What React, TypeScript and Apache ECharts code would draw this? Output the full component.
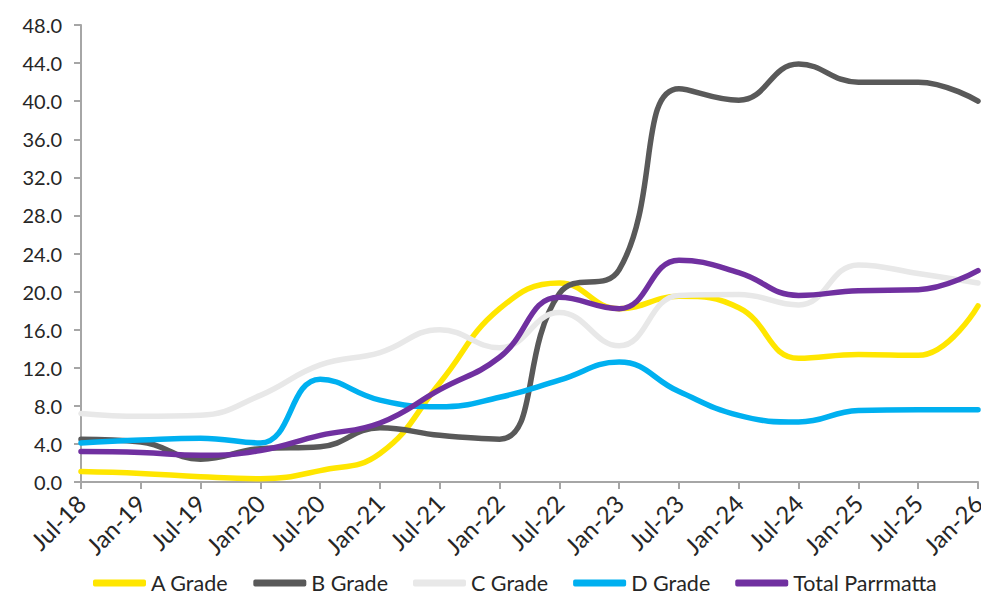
import React, { useEffect, useRef } from "react";
import * as echarts from "echarts";

const periods = [
  "Jul-18", "Jan-19", "Jul-19", "Jan-20", "Jul-20", "Jan-21", "Jul-21", "Jan-22",
  "Jul-22", "Jan-23", "Jul-23", "Jan-24", "Jul-24", "Jan-25", "Jul-25", "Jan-26",
];

const aGrade = [1.1, 0.9, 0.55, 0.35, 1.2, 3.0, 10.4, 18.2, 20.9, 18.2, 19.5, 18.3, 13.0, 13.4, 13.3, 18.5];
const bGrade = [4.5, 4.2, 2.4, 3.5, 3.7, 5.7, 4.9, 4.5, 19.8, 22.3, 41.3, 40.1, 43.9, 42.0, 42.0, 40.0];
const cGrade = [7.2, 6.9, 7.0, 9.1, 12.3, 13.6, 16.0, 14.1, 17.8, 14.3, 19.6, 19.7, 18.6, 22.8, 21.9, 20.9];
const dGrade = [4.1, 4.4, 4.6, 4.1, 10.8, 8.6, 7.9, 8.9, 10.7, 12.6, 9.5, 7.0, 6.3, 7.5, 7.6, 7.6];
const total = [3.2, 3.1, 2.8, 3.3, 4.9, 6.2, 9.7, 13.1, 19.4, 18.2, 23.3, 22.0, 19.6, 20.1, 20.2, 22.2];

const yTicks = { min: 0, max: 48, interval: 4 };

const seriesDefs = [
  { name: "A Grade", data: aGrade, color: "#FFE600" },
  { name: "B Grade", data: bGrade, color: "#595959" },
  { name: "C Grade", data: cGrade, color: "#E8E8E8" },
  { name: "D Grade", data: dGrade, color: "#00B0F0" },
  { name: "Total Parrmatta", data: total, color: "#7030A0" },
];

const FONT = "Lato, 'Open Sans', sans-serif";
const AXIS_COLOR = "#A6A6A6";
const TEXT_COLOR = "#262626";

export default function App() {
  const ref = useRef<HTMLDivElement>(null);

  useEffect(() => {
    if (!ref.current) return;
    const chart = echarts.init(ref.current, null, { renderer: "svg" });
    chart.setOption({
      animation: false,
      backgroundColor: "#ffffff",
      textStyle: { fontFamily: FONT },
      grid: { left: 73, right: 11, top: 17, bottom: 115, containLabel: false },
      legend: {
        top: 559,
        left: 80,
        icon: "roundRect",
        itemWidth: 53,
        itemHeight: 7,
        itemGap: 25,
        textStyle: { fontSize: 21.5, color: TEXT_COLOR, fontFamily: FONT },
        data: seriesDefs.map((s) => s.name),
      },
      xAxis: {
        type: "category",
        data: periods,
        boundaryGap: false,
        axisLine: { lineStyle: { color: AXIS_COLOR, width: 2 } },
        axisTick: { show: true, length: 7, lineStyle: { color: AXIS_COLOR, width: 2 } },
        axisLabel: {
          rotate: 45,
          interval: 0,
          fontSize: 24,
          color: TEXT_COLOR,
          fontFamily: FONT,
          margin: 17,
        },
        splitLine: { show: false },
      },
      yAxis: {
        type: "value",
        min: yTicks.min,
        max: yTicks.max,
        interval: yTicks.interval,
        axisLine: { show: true, lineStyle: { color: AXIS_COLOR, width: 2 } },
        axisTick: { show: true, length: 7, lineStyle: { color: AXIS_COLOR, width: 2 } },
        axisLabel: {
          fontSize: 20,
          color: TEXT_COLOR,
          fontFamily: FONT,
          margin: 19,
          formatter: (v: number) => v.toFixed(1),
        },
        splitLine: { show: false },
      },
      series: seriesDefs.map((s) => ({
        name: s.name,
        type: "line",
        data: s.data,
        smooth: 0.45,
        showSymbol: false,
        symbol: "none",
        lineStyle: { color: s.color, width: 5.5, cap: "round", join: "round" },
        itemStyle: { color: s.color },
      })),
    });
    return () => chart.dispose();
  }, []);

  return <div ref={ref} style={{ width: 981, height: 589 }} />;
}
